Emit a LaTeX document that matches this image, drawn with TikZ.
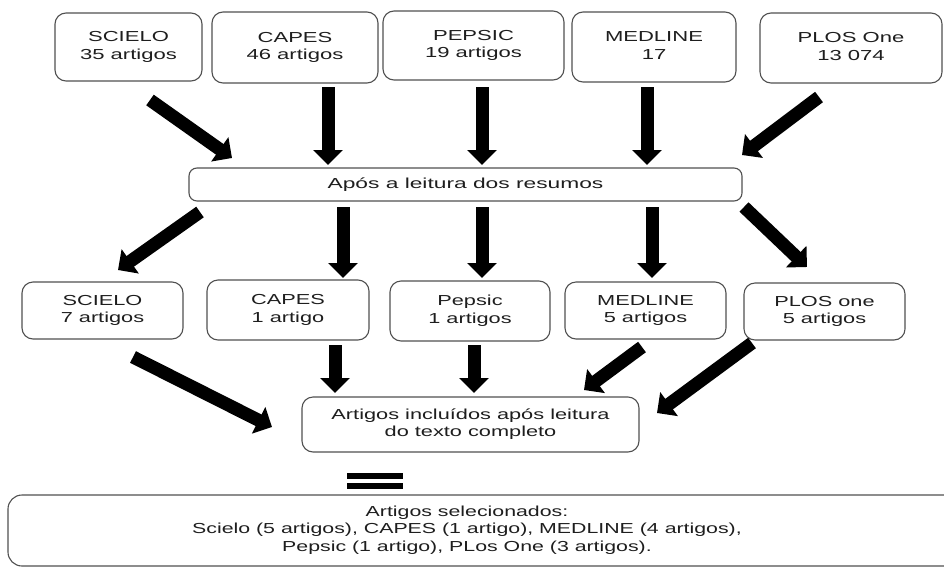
\documentclass[tikz,border=0pt]{standalone}
\usepackage{fontspec}
\setmainfont{Liberation Sans}
\usepackage{graphicx}
\usetikzlibrary{arrows.meta}
\definecolor{boxgray}{HTML}{505050}
\definecolor{txtgray}{HTML}{1E1E1E}
\newcommand\sxt[2][1.5]{\scalebox{#1}[1]{\begin{tabular}{@{}c@{}}#2\end{tabular}}}
\tikzset{
  box/.style={draw=boxgray, line width=1.1pt, rounded corners=11pt, inner sep=0pt,
    text=txtgray, font=\fontsize{14.5}{17.5}\selectfont},
  blk/.style={line width=13pt, draw=black, -{Triangle[width=29pt,length=15pt]}},
  bar/.style={fill=black}
}
\begin{document}
\begin{tikzpicture}[x=1pt,y=-1pt]
\useasboundingbox (0,0) rectangle (944,568);
\clip (0,0) rectangle (944,568);
% top row
\node[box, minimum width=147pt, minimum height=68pt] (t1) at (128.5,47) {\sxt[1.52]{SCIELO\\35 artigos}};
\node[box, minimum width=166pt, minimum height=71pt] (t2) at (295,47.5) {\sxt[1.52]{CAPES\\46 artigos}};
\node[box, minimum width=181pt, minimum height=69pt] (t3) at (473.5,45.5) {\sxt[1.52]{PEPSIC\\19 artigos}};
\node[box, minimum width=164pt, minimum height=70pt] (t4) at (654,47) {\sxt[1.52]{MEDLINE\\17}};
\node[box, minimum width=182pt, minimum height=70pt] (t5) at (851,48) {\sxt[1.52]{PLOS One\\13 074}};
% middle
\node[box, rounded corners=8pt, minimum width=553pt, minimum height=33pt] (m) at (465.5,184.5) {\sxt[1.57]{Após a leitura dos resumos}};
% second row
\node[box, minimum width=161pt, minimum height=57pt] (r1) at (102.5,310.5) {\sxt{SCIELO\\7 artigos}};
\node[box, minimum width=162pt, minimum height=60pt] (r2) at (288,310) {\sxt{CAPES\\1 artigo}};
\node[box, minimum width=160pt, minimum height=60pt] (r3) at (470,311) {\sxt{Pepsic\\1 artigos}};
\node[box, minimum width=161pt, minimum height=57pt] (r4) at (645.5,310.5) {\sxt{MEDLINE\\5 artigos}};
\node[box, minimum width=161pt, minimum height=57pt] (r5) at (824.5,311.5) {\sxt{PLOS one\\5 artigos}};
% third
\node[box, minimum width=337pt, minimum height=55pt] (f) at (470.5,424.5) {\sxt{Artigos incluídos após leitura\\do texto completo}};
% bottom
\node[box, rounded corners=14pt, minimum width=952pt, minimum height=71pt] (b) at (484,530.5) {};
\node[text=txtgray, font=\fontsize{14.5}{17.5}\selectfont, inner sep=0pt] (bt) at (467,530)
  {\sxt[1.47]{Artigos selecionados:\\Scielo (5 artigos), CAPES (1 artigo), MEDLINE (4 artigos),\\Pepsic (1 artigo), PLos One (3 artigos).}};
% equals sign
\fill[bar] (347,473) rectangle (403,479);
\fill[bar] (347,483) rectangle (403,489);
% arrow coordinates
\coordinate (a1s) at (150,100); \coordinate (a1e) at (232,158);
\coordinate (a2s) at (328,87);  \coordinate (a2e) at (328,165);
\coordinate (a3s) at (482,87);  \coordinate (a3e) at (482,165);
\coordinate (a4s) at (647,87);  \coordinate (a4e) at (647,165);
\coordinate (a5s) at (819,97);  \coordinate (a5e) at (742,155);
\coordinate (b1s) at (200,212); \coordinate (b1e) at (118,270);
\coordinate (b2s) at (343,207); \coordinate (b2e) at (343,278);
\coordinate (b3s) at (482,207); \coordinate (b3e) at (482,278);
\coordinate (b4s) at (652,207); \coordinate (b4e) at (652,278);
\coordinate (b5s) at (744,207); \coordinate (b5e) at (807,267);
\coordinate (c1s) at (133,357); \coordinate (c1e) at (272,427);
\coordinate (c2s) at (335,345); \coordinate (c2e) at (335,393);
\coordinate (c3s) at (474,345); \coordinate (c3e) at (474,393);
\coordinate (c4s) at (642,347); \coordinate (c4e) at (584,390);
\coordinate (c5s) at (752,343); \coordinate (c5e) at (657,413);
\foreach \a in {a,b,c}{\foreach \i in {1,...,5}{\draw[blk] (\a\i s) -- (\a\i e);}}
\end{tikzpicture}
\end{document}
